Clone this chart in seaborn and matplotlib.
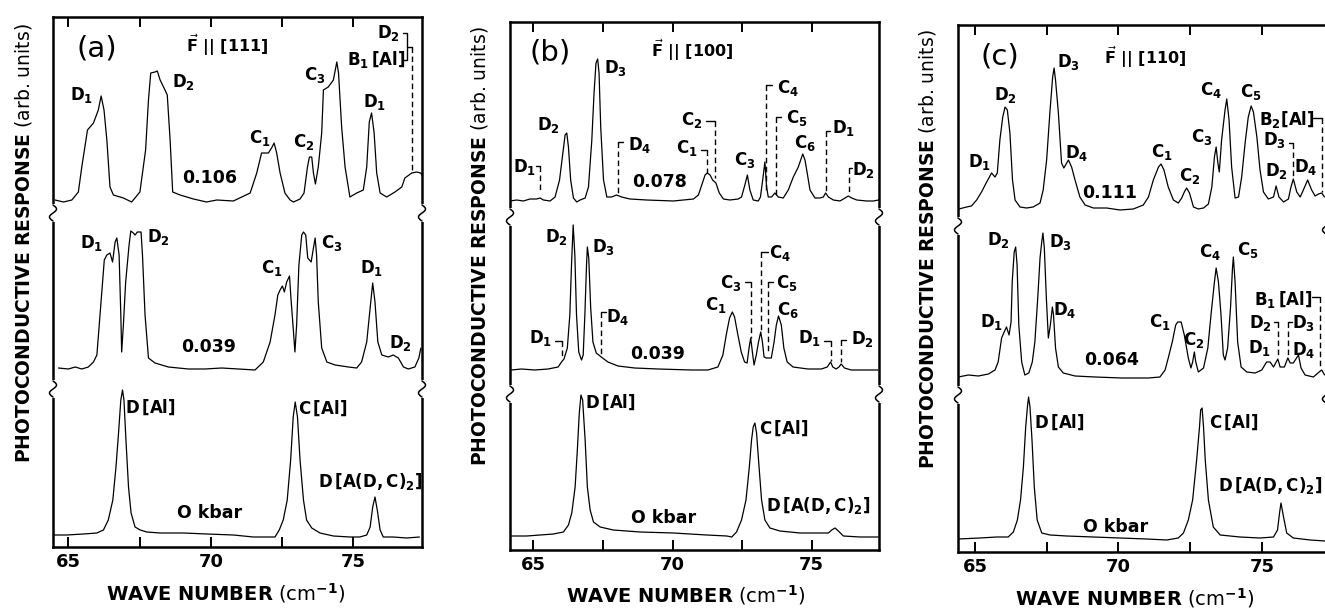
import numpy as np
import pandas as pd
import matplotlib
matplotlib.use("Agg")
import matplotlib.pyplot as plt
import matplotlib.transforms as mtransforms
from matplotlib.ticker import MultipleLocator, FuncFormatter
import seaborn as sns

sns.set_theme(style="white")
plt.rcParams["font.family"] = ["DejaVu Sans"]
plt.rcParams["mathtext.fontset"] = "dejavusans"
plt.rcParams["text.color"] = "black"
plt.rcParams["axes.labelcolor"] = "black"
plt.rcParams["xtick.color"] = "black"
plt.rcParams["xtick.labelcolor"] = "black"

W, H = 1325, 609

# ---------------- (a)  F || [111] ----------------
a_top_x = [64.53, 64.83, 65.12, 65.35, 65.47, 65.67, 65.88, 66.05, 66.15, 66.25, 66.35, 66.46, 66.58, 66.93, 67.22,
           67.51, 67.71, 67.81, 67.89, 68.04, 68.12, 68.22, 68.39, 68.47, 68.57, 68.66, 68.92, 69.39, 69.85, 70.21,
           70.79, 71.38, 71.61, 71.78, 72.02, 72.13, 72.22, 72.31, 72.43, 72.60, 72.78, 72.90, 73.13, 73.27, 73.39,
           73.46, 73.54, 73.60, 73.67, 73.77, 73.89, 73.95, 74.12, 74.30, 74.42, 74.48, 74.59, 74.71, 74.88, 75.12,
           75.35, 75.47, 75.56, 75.64, 75.73, 75.82, 75.94, 76.17, 76.46, 76.70, 76.81, 77.05, 77.22, 77.36, 77.48]
a_top_y = [347, 345, 347, 355, 380, 417, 424, 437, 451, 437, 407, 360, 352, 349, 345,
           355, 397, 447, 474, 475, 476, 467, 457, 452, 407, 355, 352, 348, 345, 347,
           346, 354, 374, 394, 394, 399, 404, 394, 374, 354, 347, 345, 348, 354, 380,
           390, 390, 374, 363, 380, 414, 457, 460, 467, 485, 474, 420, 380, 350, 354,
           357, 380, 425, 434, 414, 374, 354, 350, 355, 360, 369, 374, 375, 374, 369]

a_mid_x = [64.65, 65.00, 65.24, 65.47, 65.70, 65.88, 66.00, 66.11, 66.26, 66.35,
           66.46, 66.55, 66.64, 66.70, 66.78, 66.84, 66.87, 66.93, 67.01, 67.13,
           67.19, 67.28, 67.34, 67.42, 67.55, 67.60, 67.69, 67.81, 68.04, 68.51,
           69.21, 69.80, 70.38, 70.97, 71.55, 71.84, 72.08, 72.25, 72.35, 72.43,
           72.51, 72.58, 72.66, 72.76, 72.81, 72.90, 72.95, 73.01, 73.09, 73.19,
           73.25, 73.33, 73.40, 73.52, 73.60, 73.66, 73.71, 73.77, 73.89, 74.07,
           74.36, 74.83, 75.12, 75.29, 75.47, 75.59, 75.68, 75.76, 75.86, 76.00,
           76.23, 76.40, 76.58, 76.76, 76.93, 77.16, 77.30, 77.37]
a_mid_y = [179, 178, 180, 178, 180, 185, 192, 232, 287, 292,
           294, 285, 305, 309, 292, 232, 195, 222, 265, 302,
           316, 314, 312, 315, 315, 292, 232, 189, 184, 180,
           178, 178, 179, 178, 177, 185, 205, 232, 252, 257,
           261, 255, 265, 271, 249, 215, 195, 222, 282, 312,
           315, 312, 289, 285, 299, 309, 292, 245, 199, 185,
           182, 180, 179, 185, 205, 239, 264, 245, 205, 192,
           190, 192, 189, 180, 178, 180, 189, 199]

a_bot_x = [64.42, 64.94, 65.53, 66.00, 66.23, 66.40, 66.56, 66.67, 66.76, 66.84,
           66.90, 66.95, 67.02, 67.11, 67.20, 67.34, 67.52, 67.75, 68.22, 69.04,
           69.86, 70.79, 71.49, 71.96, 72.25, 72.40, 72.54, 72.68, 72.80, 72.89,
           72.96, 73.04, 73.13, 73.25, 73.36, 73.54, 73.83, 74.30, 74.88, 75.23,
           75.47, 75.59, 75.68, 75.76, 75.84, 75.94, 76.05, 76.40, 76.87, 77.32]
a_bot_y = [12, 12, 13, 14, 17, 27, 47, 80, 114, 147,
           157, 147, 107, 60, 34, 20, 17, 15, 14, 14,
           13, 12, 10, 10, 10, 17, 27, 47, 87, 130,
           145, 130, 87, 47, 27, 19, 14, 11, 10, 10,
           12, 20, 40, 50, 37, 17, 10, 10, 9, 10]

# ---------------- (b)  F || [100] ----------------
b_top_x = [64.16, 64.40, 64.64, 64.88, 65.12, 65.24, 65.36, 65.60, 65.78, 65.94,
           66.06, 66.14, 66.20, 66.26, 66.34, 66.44, 66.56, 66.68, 66.86, 66.98,
           67.10, 67.18, 67.25, 67.31, 67.36, 67.42, 67.52, 67.64, 67.81, 67.99,
           68.17, 68.47, 69.07, 70.03, 70.75, 70.93, 71.05, 71.17, 71.25, 71.35,
           71.44, 71.56, 71.68, 71.83, 72.06, 72.36, 72.48, 72.60, 72.69, 72.78,
           72.90, 73.08, 73.16, 73.24, 73.32, 73.38, 73.44, 73.56, 73.68, 73.80,
           73.98, 74.16, 74.34, 74.52, 74.68, 74.76, 74.84, 74.94, 75.12, 75.30,
           75.42, 75.50, 75.60, 75.78, 76.02, 76.20, 76.32, 76.44, 76.62, 76.98,
           77.22, 77.40]
b_top_y = [349, 350, 349, 351, 351, 352, 350, 349, 353, 370,
           397, 415, 417, 403, 370, 352, 348, 350, 352, 363,
           410, 457, 487, 491, 477, 423, 370, 353, 353, 355,
           353, 351, 350, 349, 351, 355, 365, 375, 377, 375,
           370, 367, 357, 351, 350, 351, 353, 365, 375, 360,
           350, 349, 353, 370, 388, 363, 353, 353, 357, 353,
           352, 360, 373, 383, 396, 390, 377, 360, 352, 352,
           353, 357, 353, 350, 349, 352, 354, 352, 350, 349,
           349, 350]

b_mid_x = [64.21, 64.57, 65.05, 65.53, 65.89, 66.01, 66.10, 66.22, 66.31, 66.37,
           66.43, 66.49, 66.55, 66.63, 66.73, 66.79, 66.85, 66.91, 66.94, 66.99,
           67.06, 67.14, 67.26, 67.44, 67.68, 68.04, 68.64, 69.48, 70.68, 71.27,
           71.63, 71.81, 71.93, 72.05, 72.15, 72.23, 72.35, 72.47, 72.59, 72.68,
           72.75, 72.81, 72.87, 72.93, 73.01, 73.09, 73.17, 73.23, 73.29, 73.37,
           73.55, 73.65, 73.73, 73.81, 73.91, 74.00, 74.12, 74.33, 74.87, 75.35,
           75.56, 75.68, 75.76, 75.88, 75.98, 76.06, 76.18, 76.42, 76.90, 77.38]
b_mid_y = [180, 181, 180, 181, 183, 188, 191, 202, 235, 285,
           325, 295, 235, 198, 190, 195, 235, 285, 303, 292,
           242, 208, 197, 193, 188, 184, 182, 181, 180, 180,
           183, 195, 215, 232, 238, 233, 215, 198, 188, 187,
           202, 212, 198, 185, 195, 208, 218, 208, 193, 192,
           192, 208, 225, 234, 225, 202, 188, 183, 181, 181,
           183, 188, 183, 181, 183, 186, 182, 180, 180, 180]

b_bot_x = [64.19, 64.76, 65.24, 65.72, 66.08, 66.26, 66.38, 66.50, 66.58, 66.65,
           66.71, 66.77, 66.86, 66.94, 67.04, 67.16, 67.40, 67.87, 68.83, 70.03,
           71.23, 71.95, 72.13, 72.30, 72.48, 72.64, 72.76, 72.84, 72.90, 72.96,
           73.02, 73.11, 73.20, 73.32, 73.50, 73.86, 74.58, 75.30, 75.60, 75.72,
           75.84, 75.96, 76.14, 76.74, 77.40]
b_bot_y = [14, 14, 15, 16, 18, 25, 37, 63, 100, 137,
           155, 150, 110, 63, 40, 28, 23, 20, 18, 17,
           15, 14, 13, 18, 30, 50, 83, 110, 123, 127,
           117, 83, 50, 30, 22, 19, 17, 17, 17, 20,
           22, 19, 14, 13, 13]

# ---------------- (c)  F || [110] ----------------
c_top_x = [64.44, 64.71, 64.88, 65.06, 65.23, 65.41, 65.58, 65.70, 65.78, 65.87,
           65.97, 66.05, 66.13, 66.22, 66.31, 66.40, 66.57, 66.80, 67.03, 67.27,
           67.38, 67.50, 67.62, 67.71, 67.76, 67.81, 67.91, 68.02, 68.10, 68.26,
           68.37, 68.49, 68.66, 68.84, 69.13, 69.59, 70.06, 70.52, 70.87, 71.05,
           71.22, 71.40, 71.49, 71.59, 71.74, 71.92, 72.09, 72.21, 72.30, 72.38,
           72.48, 72.62, 72.79, 72.97, 73.14, 73.26, 73.35, 73.41, 73.47, 73.52,
           73.60, 73.72, 73.78, 73.86, 73.95, 74.07, 74.19, 74.30, 74.42, 74.53,
           74.63, 74.71, 74.83, 74.94, 75.06, 75.23, 75.41, 75.50, 75.60, 75.76,
           75.93, 76.01, 76.10, 76.22, 76.34, 76.45, 76.60, 76.74, 76.86, 76.98,
           77.09, 77.19]
c_top_y = [343, 345, 346, 352, 360, 370, 379, 375, 379, 412,
           435, 445, 442, 419, 372, 352, 345, 344, 345, 349,
           362, 392, 442, 475, 484, 472, 439, 389, 384, 392,
           385, 372, 355, 347, 344, 344, 342, 343, 347, 355,
           372, 385, 388, 382, 365, 352, 349, 354, 360, 364,
           359, 345, 343, 344, 348, 365, 395, 405, 389, 380,
           412, 442, 453, 432, 385, 354, 355, 375, 409, 435,
           446, 440, 415, 382, 360, 353, 355, 366, 355, 350,
           353, 364, 373, 360, 355, 362, 372, 362, 356, 358,
           359, 355]

c_mid_x = [64.42, 64.77, 65.12, 65.47, 65.70, 65.81, 65.93, 66.02, 66.10, 66.19,
           66.26, 66.30, 66.37, 66.42, 66.47, 66.53, 66.63, 66.74, 66.88, 67.00,
           67.09, 67.19, 67.27, 67.33, 67.37, 67.42, 67.49, 67.56, 67.63, 67.70,
           67.74, 67.81, 67.91, 68.08, 68.49, 69.19, 70.12, 71.05, 71.45, 71.63,
           71.74, 71.88, 72.00, 72.07, 72.19, 72.30, 72.44, 72.53, 72.59, 72.65,
           72.70, 72.79, 72.97, 73.12, 73.23, 73.35, 73.41, 73.49, 73.58, 73.66,
           73.72, 73.81, 73.91, 73.98, 74.01, 74.07, 74.16, 74.28, 74.48, 74.77,
           75.00, 75.17, 75.29, 75.41, 75.56, 75.64, 75.79, 75.91, 75.99, 76.10,
           76.28, 76.37, 76.51, 76.80, 77.00, 77.09, 77.19]
c_mid_y = [175, 177, 176, 178, 182, 190, 214, 220, 225, 217,
           230, 270, 300, 305, 287, 227, 190, 177, 179, 190,
           210, 254, 294, 310, 319, 304, 254, 214, 227, 245,
           237, 204, 185, 179, 176, 175, 174, 174, 175, 182,
           194, 210, 227, 230, 230, 217, 194, 184, 190, 200,
           190, 180, 184, 204, 237, 270, 284, 270, 237, 197,
           192, 204, 244, 284, 295, 270, 210, 185, 180, 179,
           182, 190, 190, 185, 193, 185, 185, 194, 189, 189,
           197, 184, 177, 175, 180, 182, 177]

c_bot_x = [64.42, 65.17, 65.76, 66.16, 66.34, 66.48, 66.59, 66.69, 66.77, 66.83,
           66.87, 66.92, 66.99, 67.07, 67.17, 67.33, 67.62, 68.20, 69.13, 70.06,
           70.99, 71.69, 72.09, 72.27, 72.44, 72.59, 72.73, 72.83, 72.87, 72.92,
           72.97, 73.03, 73.14, 73.31, 73.55, 74.24, 74.94, 75.41, 75.55, 75.62,
           75.67, 75.76, 75.87, 76.10, 76.69, 77.21]
c_bot_y = [13, 14, 15, 15, 20, 32, 52, 85, 125, 145,
           155, 145, 112, 65, 32, 19, 17, 16, 15, 14,
           13, 12, 14, 19, 32, 52, 92, 125, 142, 144,
           125, 92, 52, 25, 17, 15, 14, 15, 22, 39,
           49, 35, 19, 14, 12, 11]

# ---------------- peak labels: (text, x, y) ----------------
a_labels = [
    (r"$\mathbf{D_1}$", 65.47, 452), (r"$\mathbf{D_2}$", 69.04, 465), (r"$\mathbf{C_1}$", 71.73, 409),
    (r"$\mathbf{C_2}$", 73.25, 405), (r"$\mathbf{C_3}$", 73.66, 472), (r"$\mathbf{D_1}$", 75.73, 445),
    (r"$\mathbf{D_2}$", 76.22, 514), (r"$\mathbf{B_1\,[Al]}$", 75.81, 487),
    (r"$\mathbf{D_1}$", 65.82, 304), (r"$\mathbf{D_2}$", 68.16, 310), (r"$\mathbf{C_1}$", 72.13, 279),
    (r"$\mathbf{C_3}$", 74.24, 304), (r"$\mathbf{D_1}$", 75.64, 279), (r"$\mathbf{D_2}$", 76.64, 204),
    (r"$\mathbf{D\,[Al]}$", 67.88, 140), (r"$\mathbf{C\,[Al]}$", 73.92, 139),
    (r"$\mathbf{D\,[A(D,C)_2]}$", 75.59, 65),
]
b_labels = [
    (r"$\mathbf{D_1}$", 64.70, 383), (r"$\mathbf{D_2}$", 65.54, 425), (r"$\mathbf{D_3}$", 67.96, 482),
    (r"$\mathbf{D_4}$", 68.83, 405), (r"$\mathbf{C_2}$", 70.69, 430), (r"$\mathbf{C_1}$", 70.51, 402),
    (r"$\mathbf{C_3}$", 72.60, 390), (r"$\mathbf{C_4}$", 74.16, 462), (r"$\mathbf{C_5}$", 74.48, 432),
    (r"$\mathbf{C_6}$", 74.76, 407), (r"$\mathbf{D_1}$", 76.14, 422), (r"$\mathbf{D_2}$", 76.88, 380),
    (r"$\mathbf{D_2}$", 65.83, 313), (r"$\mathbf{D_3}$", 67.53, 303), (r"$\mathbf{D_1}$", 65.27, 212),
    (r"$\mathbf{D_4}$", 68.04, 233), (r"$\mathbf{C_1}$", 71.57, 245), (r"$\mathbf{C_3}$", 72.11, 267),
    (r"$\mathbf{C_4}$", 73.85, 297), (r"$\mathbf{C_5}$", 74.12, 267), (r"$\mathbf{C_6}$", 74.15, 240),
    (r"$\mathbf{D_1}$", 74.93, 212), (r"$\mathbf{D_2}$", 76.84, 211),
    (r"$\mathbf{D\,[Al]}$", 67.78, 148), (r"$\mathbf{C\,[Al]}$", 73.98, 122),
    (r"$\mathbf{D\,[A(D,C)_2]}$", 75.24, 45),
]
c_labels = [
    (r"$\mathbf{D_1}$", 65.17, 390), (r"$\mathbf{D_2}$", 66.05, 457), (r"$\mathbf{D_3}$", 68.26, 490),
    (r"$\mathbf{D_4}$", 68.55, 399), (r"$\mathbf{C_1}$", 71.51, 400), (r"$\mathbf{C_2}$", 72.48, 376),
    (r"$\mathbf{C_3}$", 72.91, 415), (r"$\mathbf{C_4}$", 73.23, 462), (r"$\mathbf{C_5}$", 74.62, 460),
    (r"$\mathbf{B_2[Al]}$", 75.87, 433), (r"$\mathbf{D_3}$", 75.46, 412), (r"$\mathbf{D_2}$", 75.52, 381),
    (r"$\mathbf{D_4}$", 76.55, 385),
    (r"$\mathbf{D_2}$", 65.81, 312), (r"$\mathbf{D_3}$", 67.97, 310), (r"$\mathbf{D_1}$", 65.58, 230),
    (r"$\mathbf{D_4}$", 68.14, 242), (r"$\mathbf{C_1}$", 71.45, 230), (r"$\mathbf{C_2}$", 72.62, 212),
    (r"$\mathbf{C_4}$", 73.20, 300), (r"$\mathbf{C_5}$", 74.53, 302), (r"$\mathbf{B_1\,[Al]}$", 75.76, 252),
    (r"$\mathbf{D_2}$", 74.94, 229), (r"$\mathbf{D_3}$", 76.45, 229), (r"$\mathbf{D_1}$", 74.94, 204),
    (r"$\mathbf{D_4}$", 76.45, 202),
    (r"$\mathbf{D\,[Al]}$", 67.93, 130), (r"$\mathbf{C\,[Al]}$", 74.01, 130),
    (r"$\mathbf{D\,[A(D,C)_2]}$", 75.31, 67),
]

# stress values written beside each trace: (text, x, y)
a_stress = [("0.106", 69.95, 369), ("0.039", 69.91, 200), ("O kbar", 69.97, 34)]
b_stress = [("0.078", 69.55, 368), ("0.039", 69.48, 196), ("O kbar", 69.67, 32)]
c_stress = [("0.111", 69.71, 359), ("0.064", 69.77, 192), ("O kbar", 69.91, 25)]

# dashed leader lines: (x of line, end of hook, y top, y bottom)
a_leaders = [(77.06, 76.88, 500, 377)]
b_leaders = [(65.24, 65.10, 384, 357), (68.03, 68.21, 408, 357), (71.53, 71.20, 429, 372),
             (71.23, 71.02, 400, 377), (73.36, 73.56, 465, 360), (73.71, 73.89, 433, 355),
             (75.50, 75.66, 419, 358), (76.34, 76.44, 382, 355),
             (66.03, 65.77, 209, 193), (67.44, 67.62, 238, 195), (72.83, 72.59, 268, 212),
             (73.19, 73.43, 298, 218), (73.43, 73.61, 268, 198), (75.68, 75.44, 209, 189),
             (76.06, 76.24, 210, 188)]
c_leaders = [(77.09, 76.80, 434, 360), (76.10, 75.96, 409, 374),
             (77.03, 76.74, 255, 184), (75.56, 75.41, 230, 194), (75.93, 76.07, 230, 195)]

panels = [
    dict(box=(53, 422, 17, 547), xlim=(64.46, 77.41), tag="(a)", tag_xy=(66.0, 499),
         field=r"$\vec{\mathbf{F}}$ || [111]", field_xy=(70.56, 502),
         traces={"0.106": (a_top_x, a_top_y), "0.039": (a_mid_x, a_mid_y), "0": (a_bot_x, a_bot_y)},
         labels=a_labels, stress=a_stress, leaders=a_leaders, breaks=(334, 158),
         ylab=(-0.081, 0.574), xlab=(0.469, -0.087)),
    dict(box=(510, 879, 22, 550), xlim=(64.16, 77.42), tag="(b)", tag_xy=(65.6, 498),
         field=r"$\vec{\mathbf{F}}$ || [100]", field_xy=(70.71, 500),
         traces={"0.078": (b_top_x, b_top_y), "0.039": (b_mid_x, b_mid_y), "0": (b_bot_x, b_bot_y)},
         labels=b_labels, stress=b_stress, leaders=b_leaders, breaks=(333, 156),
         ylab=(-0.084, 0.576), xlab=(0.477, -0.085)),
    dict(box=(958, 1326, 25, 552), xlim=(64.41, 77.24), tag="(c)", tag_xy=(65.87, 495),
         field=r"$\vec{\mathbf{F}}$ || [110]", field_xy=(70.95, 495),
         traces={"0.111": (c_top_x, c_top_y), "0.064": (c_mid_x, c_mid_y), "0": (c_bot_x, c_bot_y)},
         labels=c_labels, stress=c_stress, leaders=c_leaders, breaks=(326, 157),
         ylab=(-0.084, 0.575), xlab=(0.481, -0.087)),
]

fig = plt.figure(figsize=(W / 100, H / 100), dpi=100)
fig.patch.set_facecolor("white")

tick_fmt = FuncFormatter(lambda v, pos: f"{v:.0f}" if abs(v / 5 - round(v / 5)) < 1e-6 else "")

for i, p in enumerate(panels):
    l, r, t, b = p["box"]
    ax = fig.add_axes([l / W, 1 - b / H, (r - l) / W, (b - t) / H])
    ax.set_facecolor("white")

    frames = [pd.DataFrame({"wavenumber": xs, "response": ys, "trace": name})
              for name, (xs, ys) in p["traces"].items()]
    df = pd.concat(frames, ignore_index=True)
    sns.lineplot(data=df, x="wavenumber", y="response", units="trace", estimator=None,
                 sort=False, color="black", linewidth=0.9, ax=ax, legend=False)

    ax.set_xlim(*p["xlim"])
    ax.set_ylim(0, b - t)
    ax.set_xlabel("")
    ax.set_ylabel("")
    ax.set_yticks([])
    ax.xaxis.set_major_locator(MultipleLocator(2.5))
    ax.xaxis.set_major_formatter(tick_fmt)
    ax.tick_params(axis="x", which="major", direction="in", top=True, bottom=True,
                   length=7, width=1.4, labelsize=13, pad=4, colors="black")
    for lbl in ax.get_xticklabels():
        lbl.set_fontweight("bold")
    for sp in ax.spines.values():
        sp.set_linewidth(1.8)
        sp.set_color("black")

    # panel tag and field direction
    ax.text(*p["tag_xy"], p["tag"], fontsize=21, ha="center", va="center", color="black")
    ax.text(*p["field_xy"], p["field"], fontsize=11.5, fontweight="bold", ha="center", va="center",
            color="black")

    for s, x, y in p["labels"]:
        ax.text(x, y, s, fontsize=12, ha="center", va="center", color="black")
    for s, x, y in p["stress"]:
        ax.text(x, y, s, fontsize=12.5, fontweight="bold", ha="center", va="center", color="black")

    for xl, xh, yt, yb in p["leaders"]:
        ax.plot([xh, xl], [yt, yt], color="black", lw=1.0)
        ax.plot([xl, xl], [yt, yb], color="black", lw=1.0, ls=(0, (4, 2.5)))

    if i == 0:
        # bracket joining the D2 and B1[Al] labels onto one leader
        ax.plot([76.74, 76.88, 76.88, 76.74], [514, 514, 487, 487], color="black", lw=1.0)

    # axis-break squiggles on both side spines
    tr = mtransforms.blended_transform_factory(ax.transAxes, ax.transData)
    tt = np.linspace(-1, 1, 40)
    wpx = r - l
    for yb in p["breaks"]:
        for xa in (0.0, 1.0):
            ax.plot([xa, xa], [yb - 9, yb + 9], color="white", lw=4, transform=tr,
                    clip_on=False, zorder=6, solid_capstyle="butt")
            ax.plot(xa + 3.5 / wpx * np.sin(np.pi * tt), yb + 8 * tt, color="black", lw=1.1,
                    transform=tr, clip_on=False, zorder=7)

    ax.text(*p["ylab"], r"$\mathbf{PHOTOCONDUCTIVE\ RESPONSE}$ (arb. units)", rotation=90,
            fontsize=13.5, ha="center", va="center", transform=ax.transAxes, color="black")
    ax.text(*p["xlab"], r"$\mathbf{WAVE\ NUMBER}$ (cm$^{\mathbf{-1}}$)", fontsize=14,
            ha="center", va="center", transform=ax.transAxes, color="black")

fig.savefig("out.png", dpi=100, facecolor="white")
